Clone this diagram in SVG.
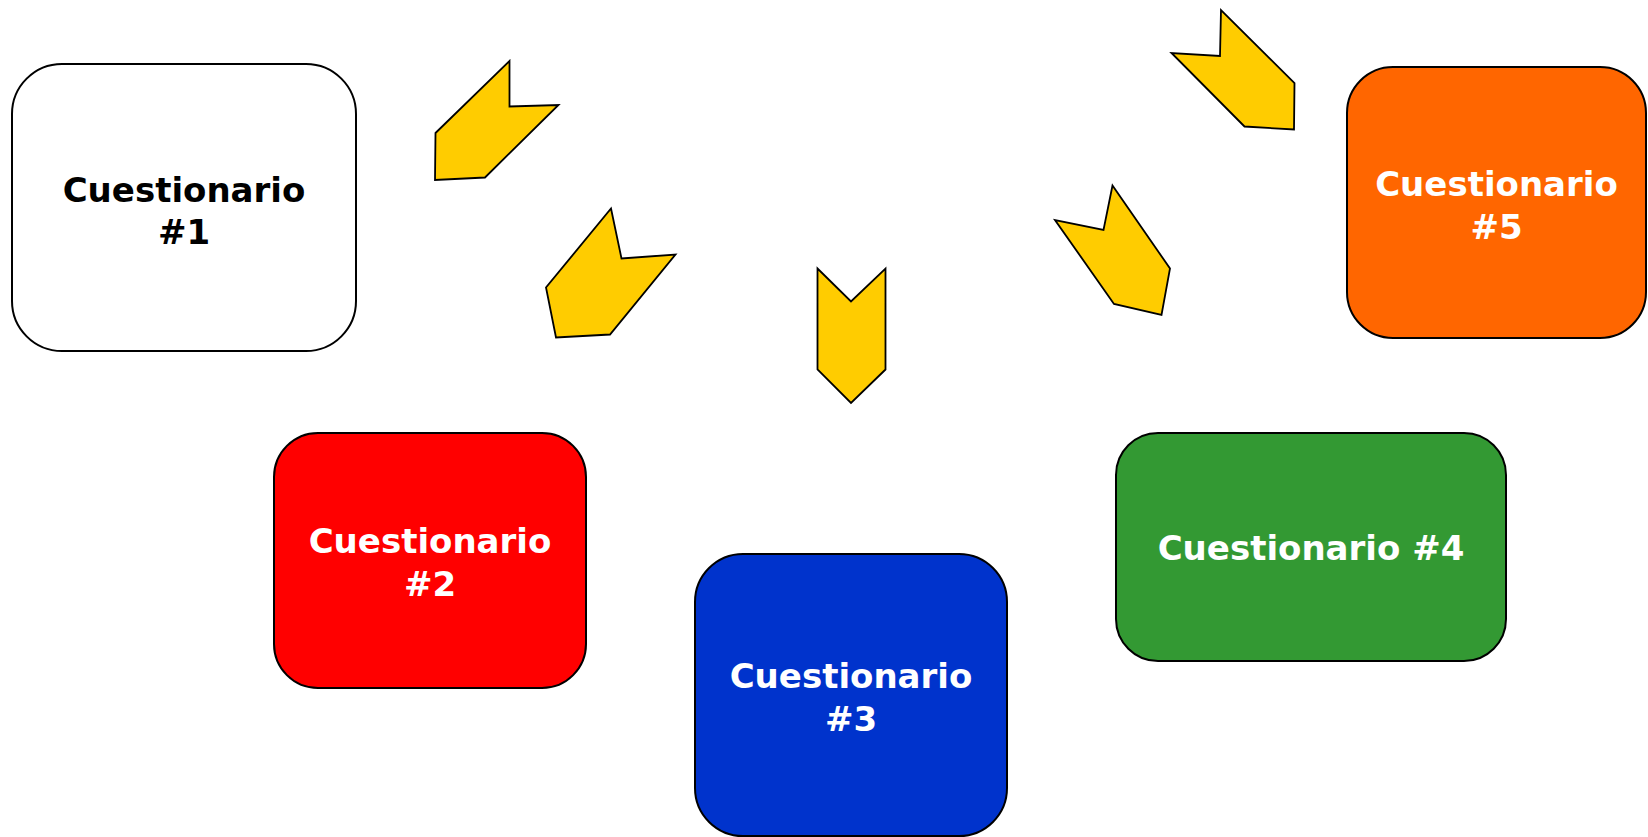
<svg xmlns="http://www.w3.org/2000/svg" width="1648" height="837" viewBox="0 0 1648 837">
<style>
.box{stroke:#000;stroke-width:2}
.lbl{font-family:"DejaVu Sans",Verdana,sans-serif;font-weight:bold;font-size:34px;text-anchor:middle}
.w{fill:#fff}
.k{fill:#000}
.chev{fill:#FFCC00;stroke:#000;stroke-width:1.8;stroke-linejoin:miter}
</style>
<rect width="1648" height="837" fill="#fff"/>
<g id="connectors">
<polygon class="chev" points="509.5,61 509.5,106.5 558.5,105 485,177.5 435,180 435.5,133"/>
<polygon class="chev" points="611,208.5 621.5,258.5 675.5,254.5 610,334.5 556,337.5 546,287.5"/>
<polygon class="chev" points="817.5,268.5 851,301.5 885.5,268.5 885.5,369.5 851,403 817.5,369.5"/>
<polygon class="chev" points="1221,10 1220,56 1171.5,53 1244.5,126.5 1294,129.5 1294.5,83"/>
<polygon class="chev" points="1112.5,185.5 1103.5,230 1055,220 1114,304 1161.5,315 1170,268.5"/>
</g>
<g id="node1">
<rect class="box" x="12" y="64" width="344" height="287" rx="50" ry="50" fill="#fff"/>
<text class="lbl k" x="184" y="202">Cuestionario</text>
<text class="lbl k" x="184" y="244">#1</text>
</g>
<g id="node2">
<rect class="box" x="274" y="433" width="312" height="255" rx="44" ry="44" fill="#FF0000"/>
<text class="lbl w" x="430" y="553">Cuestionario</text>
<text class="lbl w" x="430" y="596">#2</text>
</g>
<g id="node3">
<rect class="box" x="695" y="554" width="312" height="282" rx="48" ry="48" fill="#0033CC"/>
<text class="lbl w" x="851" y="688">Cuestionario</text>
<text class="lbl w" x="851" y="731">#3</text>
</g>
<g id="node4">
<rect class="box" x="1116" y="433" width="390" height="228" rx="42" ry="42" fill="#339933"/>
<text class="lbl w" x="1311" y="560">Cuestionario #4</text>
</g>
<g id="node5">
<rect class="box" x="1347" y="67" width="299" height="271" rx="46" ry="46" fill="#FF6600"/>
<text class="lbl w" x="1496.5" y="196">Cuestionario</text>
<text class="lbl w" x="1496.5" y="239">#5</text>
</g>
</svg>
